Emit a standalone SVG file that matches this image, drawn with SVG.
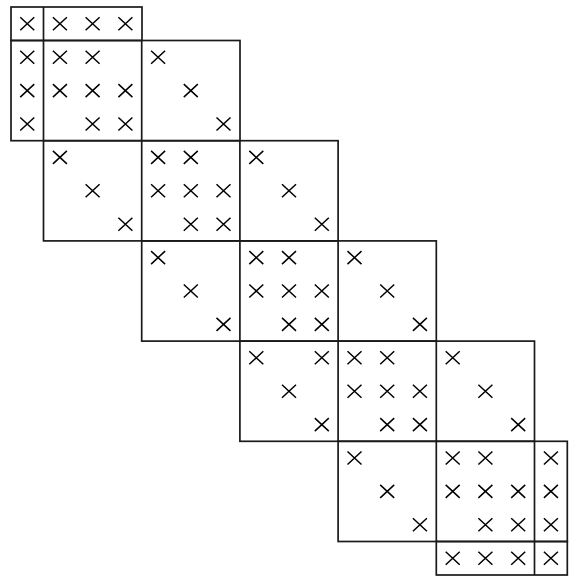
<svg xmlns="http://www.w3.org/2000/svg" width="576" height="583" viewBox="0 0 576 583">
<style>
.b{fill:none;stroke:#1a1a1a;stroke-width:1.7}
.x{fill:none;stroke:#000;stroke-width:1.5}
</style>
<defs>
<path id="X" class="x" d="M-7,-6.5L7,6.5M-7,6.5L7,-6.5"/>
</defs>
<rect width="576" height="583" fill="#fff"/>
<g id="blocks">
<g id="row0"><rect class="b" x="11" y="7" width="131" height="33.5"/><path class="b" d="M43.5,7V40.5"/></g>
<g id="row1"><rect class="b" x="11" y="40.5" width="229" height="100.2"/><path class="b" d="M43.5,40.5V140.7M141.7,40.5V140.7"/></g>
<g id="row2"><rect class="b" x="43.5" y="140.7" width="294.6" height="100.2"/><path class="b" d="M141.7,140.7V240.9M239.9,140.7V240.9"/></g>
<g id="row3"><rect class="b" x="141.7" y="240.9" width="294.6" height="100.2"/><path class="b" d="M239.9,240.9V341.1M338.1,240.9V341.1"/></g>
<g id="row4"><rect class="b" x="239.9" y="341.1" width="294.6" height="100.2"/><path class="b" d="M338.1,341.1V441.3M436.3,341.1V441.3"/></g>
<g id="row5"><rect class="b" x="338.1" y="441.3" width="229.2" height="100.2"/><path class="b" d="M436.3,441.3V541.5M534.5,441.3V541.5"/></g>
<g id="row6"><rect class="b" x="436.3" y="541.5" width="131" height="33.5"/><path class="b" d="M534.5,541.5V575"/></g>
</g>
<g id="marks">
<use href="#X" x="27.25" y="23.75"/><use href="#X" x="59.9" y="23.75"/><use href="#X" x="92.6" y="23.75"/><use href="#X" x="125.4" y="23.75"/>
<use href="#X" x="27.25" y="57.2"/><use href="#X" x="59.9" y="57.2"/><use href="#X" x="92.6" y="57.2"/><use href="#X" x="158.1" y="57.2"/>
<use href="#X" x="27.25" y="90.6"/><use href="#X" x="59.9" y="90.6"/><use href="#X" x="92.6" y="90.6"/><use href="#X" x="125.4" y="90.6"/><use href="#X" x="190.8" y="90.6"/>
<use href="#X" x="27.25" y="124"/><use href="#X" x="92.6" y="124"/><use href="#X" x="125.4" y="124"/><use href="#X" x="223.5" y="124"/>
<use href="#X" x="59.9" y="157.4"/><use href="#X" x="158.1" y="157.4"/><use href="#X" x="190.8" y="157.4"/><use href="#X" x="256.3" y="157.4"/>
<use href="#X" x="92.6" y="190.8"/><use href="#X" x="158.1" y="190.8"/><use href="#X" x="190.8" y="190.8"/><use href="#X" x="223.5" y="190.8"/><use href="#X" x="289" y="190.8"/>
<use href="#X" x="125.4" y="224.2"/><use href="#X" x="190.8" y="224.2"/><use href="#X" x="223.5" y="224.2"/><use href="#X" x="321.8" y="224.2"/>
<use href="#X" x="158.1" y="257.6"/><use href="#X" x="256.3" y="257.6"/><use href="#X" x="289" y="257.6"/><use href="#X" x="354.5" y="257.6"/>
<use href="#X" x="190.8" y="291"/><use href="#X" x="256.3" y="291"/><use href="#X" x="289" y="291"/><use href="#X" x="321.8" y="291"/><use href="#X" x="387.2" y="291"/>
<use href="#X" x="223.5" y="324.4"/><use href="#X" x="289" y="324.4"/><use href="#X" x="321.8" y="324.4"/><use href="#X" x="419.9" y="324.4"/>
<use href="#X" x="256.3" y="357.8"/><use href="#X" x="321.8" y="357.8"/><use href="#X" x="354.5" y="357.8"/><use href="#X" x="387.2" y="357.8"/><use href="#X" x="452.7" y="357.8"/>
<use href="#X" x="289" y="391.2"/><use href="#X" x="354.5" y="391.2"/><use href="#X" x="387.2" y="391.2"/><use href="#X" x="419.9" y="391.2"/><use href="#X" x="485.4" y="391.2"/>
<use href="#X" x="321.8" y="424.6"/><use href="#X" x="387.2" y="424.6"/><use href="#X" x="419.9" y="424.6"/><use href="#X" x="518.2" y="424.6"/>
<use href="#X" x="354.5" y="458"/><use href="#X" x="452.7" y="458"/><use href="#X" x="485.4" y="458"/><use href="#X" x="550.9" y="458"/>
<use href="#X" x="387.2" y="491.4"/><use href="#X" x="452.7" y="491.4"/><use href="#X" x="485.4" y="491.4"/><use href="#X" x="518.2" y="491.4"/><use href="#X" x="550.9" y="491.4"/>
<use href="#X" x="419.9" y="524.8"/><use href="#X" x="485.4" y="524.8"/><use href="#X" x="518.2" y="524.8"/><use href="#X" x="550.9" y="524.8"/>
<use href="#X" x="452.7" y="558.25"/><use href="#X" x="485.4" y="558.25"/><use href="#X" x="518.2" y="558.25"/><use href="#X" x="550.9" y="558.25"/>
</g>
</svg>
